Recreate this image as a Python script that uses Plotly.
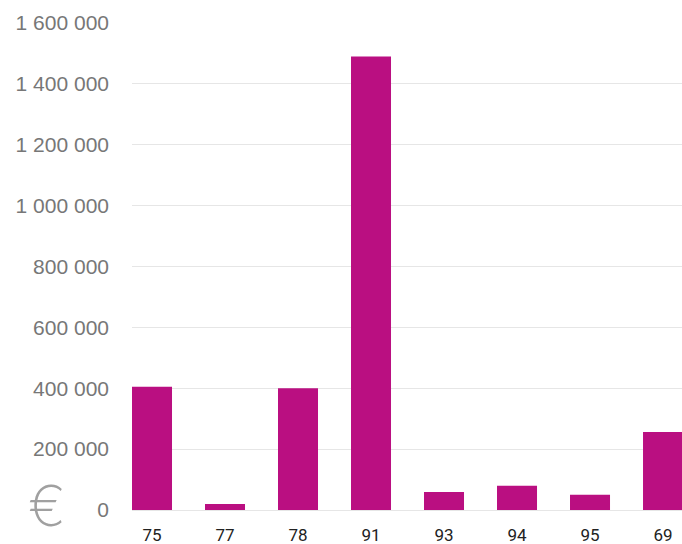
import plotly.graph_objects as go

categories = ["75", "77", "78", "91", "93", "94", "95", "69"]
values = [405000, 20000, 400000, 1490000, 59000, 80000, 50000, 256000]
y_ticks = [0, 200000, 400000, 600000, 800000, 1000000, 1200000, 1400000, 1600000]
y_labels = ["0", "200 000", "400 000", "600 000", "800 000", "1 000 000", "1 200 000", "1 400 000", "1 600 000"]

fig = go.Figure(go.Bar(
    x=list(range(len(categories))), y=values,
    marker=dict(color="#BA0F81", line=dict(width=0)),
    width=0.548,
))

L, R, T, B = 132, 0, 23, 34
PW, PH = 682 - L - R, 544 - T - B

fig.update_layout(
    width=682, height=544,
    margin=dict(l=L, r=R, t=T, b=B),
    paper_bgcolor="white", plot_bgcolor="white",
    showlegend=False,
    xaxis=dict(
        tickvals=list(range(len(categories))), ticktext=categories,
        range=[-0.274, 7.26],
        showgrid=False, zeroline=False, showline=False,
        tickfont=dict(family="Roboto, Liberation Sans, Arial", size=17, color="#222222"),
        ticks="", ticklabelstandoff=13, automargin=False,
        fixedrange=True,
    ),
    yaxis=dict(
        range=[0, 1600000],
        tickvals=y_ticks, ticktext=y_labels,
        showgrid=True, gridcolor="#E6E6E6", gridwidth=1,
        zeroline=True, zerolinecolor="#E6E6E6", zerolinewidth=1,
        showline=False, ticks="",
        tickfont=dict(family="Liberation Sans, Arial", size=21, color="#777777"),
        ticklabelstandoff=22, automargin=False,
        fixedrange=True,
    ),
    annotations=[dict(
        text="€", x=(47 - L) / PW, y=(544 - B - 506) / PH,
        xref="paper", yref="paper",
        showarrow=False, xanchor="center", yanchor="middle",
        font=dict(family="Inter, Lato, Liberation Sans", size=56, color="#A0A0A0", weight=200),
    )],
)

fig.write_html("out.html")
